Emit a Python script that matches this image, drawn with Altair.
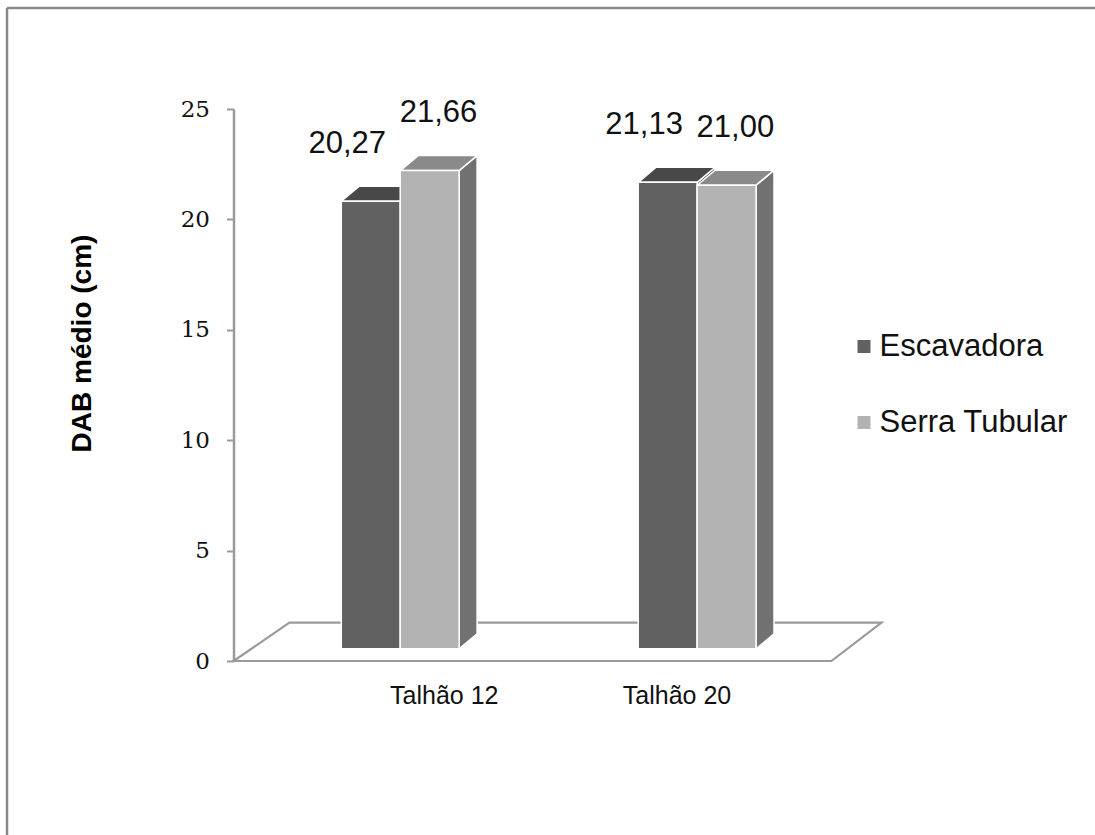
import altair as alt
import pandas as pd

# Mean DBH (cm) per plot and felling method
plots = ["Talhão 12", "Talhão 20"]
methods = ["Escavadora", "Serra Tubular"]
escavadora = [20.27, 21.13]
serra_tubular = [21.66, 21.00]
y_ticks = [0, 5, 10, 15, 20, 25]

# Layout of the pseudo-3D scene (x in bar-width units, y in cm)
GROUP_LEFT = [1.83, 6.87]
BAR_W = 1.0
DEPTH_X = 0.305
DEPTH_Y = 0.68
LIFT = 0.55
FLOOR_X = [0.0, 0.95, 10.15, 11.0]
FLOOR_DEPTH = 1.735
PLOT_LABEL_X = [3.57, 7.52]
VALUE_LABEL_DX = [-0.40, 0.15]
VALUE_LABEL_DY = 3.15

FRONT = ["#616161", "#b3b3b3"]
TOP = ["#484848", "#8a8a8a"]
SIDE = ["#505050", "#717171"]
FONT = "Liberation Sans"

values = {methods[0]: escavadora, methods[1]: serra_tubular}

front_rows, top_rows, side_rows, label_rows = [], [], [], []
for g, plot in enumerate(plots):
    for s, method in enumerate(methods):
        v = values[method][g]
        bid = f"{plot}-{method}"
        left = GROUP_LEFT[g] + s * BAR_W
        right = left + BAR_W
        base = LIFT
        top = v + LIFT
        front_rows.append(dict(id=bid, method=method, x=left, x2=right, y=base, y2=top))
        top_rows += [
            dict(id=bid, method=method, x=left, y=top, y2=top),
            dict(id=bid, method=method, x=left + DEPTH_X, y=top, y2=top + DEPTH_Y),
            dict(id=bid, method=method, x=right, y=top, y2=top + DEPTH_Y),
            dict(id=bid, method=method, x=right + DEPTH_X, y=top + DEPTH_Y, y2=top + DEPTH_Y),
        ]
        side_rows += [
            dict(id=bid, method=method, x=right, y=base, y2=top),
            dict(id=bid, method=method, x=right + DEPTH_X, y=base + DEPTH_Y, y2=top + DEPTH_Y),
        ]
        label_rows.append(dict(
            method=method,
            x=left + BAR_W / 2 + VALUE_LABEL_DX[s],
            y=v + VALUE_LABEL_DY,
            text=f"{v:.2f}".replace(".", ","),
        ))

front_df = pd.DataFrame(front_rows)
top_df = pd.DataFrame(top_rows)
side_df = pd.DataFrame(side_rows)
label_df = pd.DataFrame(label_rows)
floor_df = pd.DataFrame({
    "x": FLOOR_X,
    "y": [0, 0, 0, FLOOR_DEPTH],
    "y2": [0, FLOOR_DEPTH, FLOOR_DEPTH, FLOOR_DEPTH],
})

x_scale = alt.Scale(domain=[0, 11], nice=False, zero=False)
y_scale = alt.Scale(domain=[0, 25], nice=False)

mid = (PLOT_LABEL_X[0] + PLOT_LABEL_X[1]) / 2
x_axis = alt.Axis(
    values=PLOT_LABEL_X,
    labelExpr=f"datum.value < {mid} ? '{plots[0]}' : '{plots[1]}'",
    domain=False, ticks=False, grid=False, title=None,
    labelFont=FONT, labelFontSize=25, labelColor="#111", labelPadding=22,
)
y_axis = alt.Axis(
    values=y_ticks, grid=False,
    domainColor="#9a9a9a", domainWidth=2.5,
    tickColor="#9a9a9a", tickWidth=2, tickSize=7,
    labelFont="DejaVu Serif", labelFontSize=23, labelColor="#111", labelPadding=17,
    title="DAB médio (cm)", titleFont=FONT, titleFontSize=28, titleFontWeight="bold",
    titleColor="#000", titleX=-143, titleY=234, titleBaseline="alphabetic",
)

X = alt.X("x:Q", scale=x_scale, axis=x_axis)
Y = alt.Y("y:Q", scale=y_scale, axis=y_axis)

frame_df = pd.DataFrame({"a": [0]})
frame_top = alt.Chart(frame_df).mark_rule(color="#8a8a8a", strokeWidth=2.5).encode(
    x=alt.value(-226.5), x2=alt.value(862), y=alt.value(-101)
)
frame_left = alt.Chart(frame_df).mark_rule(color="#8a8a8a", strokeWidth=2.5).encode(
    x=alt.value(-226.5), y=alt.value(-101), y2=alt.value(727)
)

floor = alt.Chart(floor_df).mark_area(
    orient="vertical", fill="white", stroke="#9a9a9a", strokeWidth=2.2
).encode(x=X, y=Y, y2="y2:Q")

sides = alt.Chart(side_df).mark_area(
    orient="vertical", stroke="white", strokeWidth=1.5
).encode(
    x=X, y=Y, y2="y2:Q", detail="id:N",
    fill=alt.Fill("method:N", scale=alt.Scale(domain=methods, range=SIDE), legend=None),
)

tops = alt.Chart(top_df).mark_area(
    orient="vertical", stroke="white", strokeWidth=1.5
).encode(
    x=X, y=Y, y2="y2:Q", detail="id:N",
    fill=alt.Fill("method:N", scale=alt.Scale(domain=methods, range=TOP), legend=None),
)

fronts = alt.Chart(front_df).mark_rect(stroke="white", strokeWidth=1.5).encode(
    x=X, x2="x2:Q", y=Y, y2="y2:Q",
    fill=alt.Fill(
        "method:N",
        scale=alt.Scale(domain=methods, range=FRONT),
        legend=alt.Legend(
            title=None, orient="none", legendX=615, legendY=222,
            symbolType="square", symbolSize=169, symbolStrokeWidth=0,
            labelFont=FONT, labelFontSize=31, labelColor="#111", labelLimit=0,
            labelOffset=0, rowPadding=44, padding=0,
        ),
    ),
)

labels = alt.Chart(label_df).mark_text(
    font=FONT, fontSize=31, color="#111", baseline="middle", align="center"
).encode(x=X, y=Y, text="text:N")

chart = alt.layer(
    frame_top, frame_left, floor, sides, tops, fronts, labels
).resolve_scale(
    fill="independent"
).properties(
    width=648, height=552,
    autosize=alt.AutoSizeParams(type="none"),
    padding={"left": 233.5, "top": 109, "right": 213.5, "bottom": 174},
    background="white",
).configure_view(stroke=None)

chart.save("out.html", embed_options={"renderer": "svg", "actions": False})
